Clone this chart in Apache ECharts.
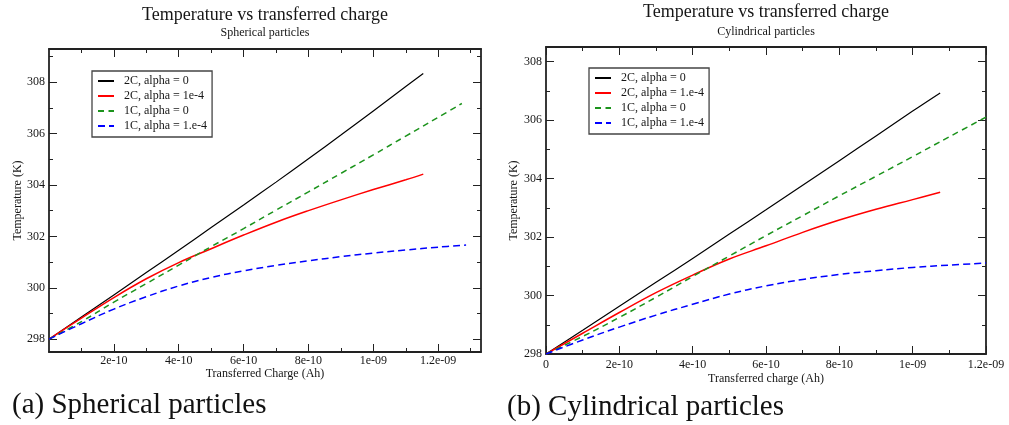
<!DOCTYPE html>
<html>
<head>
<meta charset="utf-8">
<title>Temperature vs transferred charge</title>
<script src="https://cdn.jsdelivr.net/npm/echarts@6/dist/echarts.min.js"></script>
<style>
  html, body { margin: 0; padding: 0; background: #fff; }
  #chart { width: 1009px; height: 425px; }
</style>
</head>
<body>
<div id="chart"></div>
<script>
// ---- Spherical particles (left panel) ----
// transferred charge (Ah) for the 2C runs
const sphCharge2C = [0, 1e-10, 2e-10, 3e-10, 4e-10, 5e-10, 6e-10, 7e-10, 8e-10, 9e-10, 1e-9, 1.1e-9, 1.154e-9];
const sphTemp2C_a0 = [298, 298.86, 299.72, 300.59, 301.46, 302.34, 303.22, 304.11, 305.02, 305.94, 306.88, 307.83, 308.34];
const sphTemp2C_a1 = [298, 298.82, 299.62, 300.35, 300.98, 301.52, 302.05, 302.55, 303.0, 303.42, 303.82, 304.2, 304.42];
// 1C runs
const sphCharge1C_a0 = [0, 1e-10, 2e-10, 3e-10, 4e-10, 5e-10, 6e-10, 7e-10, 8e-10, 9e-10, 1e-9, 1.1e-9, 1.2e-9, 1.273e-9];
const sphTemp1C_a0 = [298, 298.68, 299.44, 300.16, 300.88, 301.6, 302.3, 303.02, 303.73, 304.45, 305.17, 305.9, 306.63, 307.17];
const sphCharge1C_a1 = [0, 1e-10, 2e-10, 3e-10, 4e-10, 5e-10, 6e-10, 7e-10, 8e-10, 9e-10, 1e-9, 1.1e-9, 1.2e-9, 1.286e-9];
const sphTemp1C_a1 = [298, 298.6, 299.17, 299.65, 300.07, 300.4, 300.66, 300.87, 301.05, 301.21, 301.35, 301.47, 301.58, 301.66];

// ---- Cylindrical particles (right panel) ----
const cylCharge2C = [0, 1e-10, 2e-10, 3e-10, 4e-10, 5e-10, 6e-10, 7e-10, 8e-10, 9e-10, 1e-9, 1.075e-9];
const cylTemp2C_a0 = [298, 298.81, 299.63, 300.45, 301.27, 302.1, 302.93, 303.77, 304.61, 305.46, 306.31, 306.93];
const cylTemp2C_a1 = [298, 298.71, 299.42, 300.1, 300.7, 301.25, 301.7, 302.16, 302.58, 302.95, 303.28, 303.53];
const cylCharge1C = [0, 1e-10, 2e-10, 3e-10, 4e-10, 5e-10, 6e-10, 7e-10, 8e-10, 9e-10, 1e-9, 1.1e-9, 1.2e-9];
const cylTemp1C_a0 = [298, 298.6, 299.25, 299.94, 300.65, 301.35, 302.05, 302.73, 303.41, 304.08, 304.75, 305.43, 306.1];
const cylTemp1C_a1 = [298, 298.48, 298.92, 299.33, 299.7, 300.05, 300.33, 300.55, 300.72, 300.85, 300.96, 301.04, 301.11];

// ---- axis ticks and labels ----
const sphXLabels = [2e-10, 4e-10, 6e-10, 8e-10, 1e-9, 1.2e-9];
const sphXMinor = [1e-10, 3e-10, 5e-10, 7e-10, 9e-10, 1.1e-9, 1.3e-9];
const sphYLabels = [298, 300, 302, 304, 306, 308];
const sphYMinor = [299, 301, 303, 305, 307, 309];
const cylXLabels = [0, 2e-10, 4e-10, 6e-10, 8e-10, 1e-9, 1.2e-9];
const cylXMinor = [1e-10, 3e-10, 5e-10, 7e-10, 9e-10, 1.1e-9];
const cylYLabels = [298, 300, 302, 304, 306, 308];
const cylYMinor = [299, 301, 303, 305, 307];

const FONT = '"Liberation Serif", "Times New Roman", serif';
const INK = '#161616';

// 1.2e-9 -> "1.2e-09", 2e-10 -> "2e-10", 0 -> "0"
function expLabel(v) {
  if (v === 0) return '0';
  return v.toExponential().replace(/e([+-])(\d)$/, 'e$10$2');
}

function zip(xs, ys) { return xs.map((x, i) => [x, ys[i]]); }

// Four x axes and four y axes per panel: labelled major ticks, minor ticks,
// and the mirrored top/right frame with the same inward ticks.
function panelAxes(g, c) {
  const frame = { show: true, onZero: false, lineStyle: { color: '#222', width: 1.8 } };
  const hidden = { show: false, onZero: false };
  const tick = (vals, len) => ({ show: true, inside: true, length: len, customValues: vals,
    lineStyle: { color: '#222', width: 1 } });
  const base = { type: 'value', gridIndex: g, splitLine: { show: false }, silent: true };
  const xr = { min: c.xMin, max: c.xMax };
  const yr = { min: c.yMin, max: c.yMax };
  const lbl = { fontFamily: FONT, fontSize: 12, color: INK };
  const xAxes = [
    Object.assign({}, base, xr, {
      position: 'bottom', axisLine: frame, axisTick: tick(c.xLabels, 8),
      axisLabel: Object.assign({ show: true, customValues: c.xLabels, formatter: expLabel, margin: c.xLabelMargin }, lbl),
      name: c.xName, nameLocation: 'middle', nameGap: c.xNameGap, nameMoveOverlap: false,
      nameTextStyle: { fontFamily: FONT, fontSize: 12, color: INK }
    }),
    Object.assign({}, base, xr, { position: 'bottom', axisLine: hidden, axisTick: tick(c.xMinor, 4), axisLabel: { show: false } }),
    Object.assign({}, base, xr, { position: 'top', axisLine: frame, axisTick: tick(c.xLabels, 8), axisLabel: { show: false } }),
    Object.assign({}, base, xr, { position: 'top', axisLine: hidden, axisTick: tick(c.xMinor, 4), axisLabel: { show: false } })
  ];
  const yAxes = [
    Object.assign({}, base, yr, {
      position: 'left', axisLine: frame, axisTick: tick(c.yLabels, 8),
      axisLabel: Object.assign({ show: true, customValues: c.yLabels, margin: 4 }, lbl),
      name: 'Temperature (K)', nameLocation: 'middle', nameGap: c.yNameGap, nameRotate: 90, nameMoveOverlap: false,
      nameTextStyle: { fontFamily: FONT, fontSize: 12, color: INK }
    }),
    Object.assign({}, base, yr, { position: 'left', axisLine: hidden, axisTick: tick(c.yMinor, 4), axisLabel: { show: false } }),
    Object.assign({}, base, yr, { position: 'right', axisLine: frame, axisTick: tick(c.yLabels, 8), axisLabel: { show: false } }),
    Object.assign({}, base, yr, { position: 'right', axisLine: hidden, axisTick: tick(c.yMinor, 4), axisLabel: { show: false } })
  ];
  return { xAxes, yAxes };
}

const left = panelAxes(0, {
  xMin: 0, xMax: 1.332e-9, yMin: 297.5, yMax: 309.29,
  xLabels: sphXLabels, xMinor: sphXMinor, yLabels: sphYLabels, yMinor: sphYMinor,
  xName: 'Transferred Charge (Ah)', xLabelMargin: 3, xNameGap: 16, yNameGap: 25
});
const right = panelAxes(1, {
  xMin: 0, xMax: 1.2e-9, yMin: 298, yMax: 308.5,
  xLabels: cylXLabels, xMinor: cylXMinor, yLabels: cylYLabels, yMinor: cylYMinor,
  xName: 'Transferred charge (Ah)', xLabelMargin: 5, xNameGap: 19, yNameGap: 26
});

const STY = {
  c2a0: { color: '#000000', width: 1.2, type: 'solid' },
  c2a1: { color: '#ff0000', width: 1.5, type: 'solid' },
  c1a0: { color: '#1c931c', width: 1.5, type: [6, 4.5] },
  c1a1: { color: '#0000ff', width: 1.5, type: [7, 4] }
};

function line(name, xi, yi, data, s) {
  return {
    name, type: 'line', xAxisIndex: xi, yAxisIndex: yi, data,
    symbol: 'none', showSymbol: false, smooth: 0.4, animation: false, silent: true,
    lineStyle: { color: s.color, width: s.width, type: s.type },
    itemStyle: { color: s.color }
  };
}

// legend keys show only the line sample, no marker
const legendBase = {
  orient: 'vertical', padding: [4, 5, 5, 5], itemWidth: 16, itemHeight: 12, itemGap: 3,
  borderColor: '#444', borderWidth: 1.3, backgroundColor: '#fff', selectedMode: false,
  itemStyle: { opacity: 0 },
  textStyle: { fontFamily: FONT, fontSize: 12, color: INK, padding: [0, 0, 0, 5] }
};

const titleBase = {
  textAlign: 'center', padding: 0,
  textStyle: { fontFamily: FONT, fontSize: 18, fontWeight: 'normal', color: INK },
  subtextStyle: { fontFamily: FONT, fontSize: 12, color: INK }
};

const option = {
  backgroundColor: '#fff',
  animation: false,
  title: [
    Object.assign({}, titleBase, { text: 'Temperature vs transferred charge', subtext: 'Spherical particles', left: 265, top: 6, itemGap: 3 }),
    Object.assign({}, titleBase, { text: 'Temperature vs transferred charge', subtext: 'Cylindrical particles', left: 766, top: 3, itemGap: 5 })
  ],
  legend: [
    Object.assign({}, legendBase, { left: 92, top: 71,
      data: ['2C, alpha = 0', '2C, alpha = 1e-4', '1C, alpha = 0', '1C, alpha = 1.e-4'] }),
    Object.assign({}, legendBase, { left: 589, top: 68,
      data: ['2C, alpha = 0', '2C, alpha = 1.e-4', '1C, alpha = 0', '1C, alpha = 1.e-4'] })
  ],
  grid: [
    { left: 49, top: 49, width: 432, height: 303, containLabel: false, outerBoundsMode: 'none' },
    { left: 546, top: 47, width: 440, height: 307, containLabel: false, outerBoundsMode: 'none' }
  ],
  xAxis: left.xAxes.concat(right.xAxes),
  yAxis: left.yAxes.concat(right.yAxes),
  series: [
    line('2C, alpha = 0', 0, 0, zip(sphCharge2C, sphTemp2C_a0), STY.c2a0),
    line('2C, alpha = 1e-4', 0, 0, zip(sphCharge2C, sphTemp2C_a1), STY.c2a1),
    line('1C, alpha = 0', 0, 0, zip(sphCharge1C_a0, sphTemp1C_a0), STY.c1a0),
    line('1C, alpha = 1.e-4', 0, 0, zip(sphCharge1C_a1, sphTemp1C_a1), STY.c1a1),
    line('2C, alpha = 0', 4, 4, zip(cylCharge2C, cylTemp2C_a0), STY.c2a0),
    line('2C, alpha = 1.e-4', 4, 4, zip(cylCharge2C, cylTemp2C_a1), STY.c2a1),
    line('1C, alpha = 0', 4, 4, zip(cylCharge1C, cylTemp1C_a0), STY.c1a0),
    line('1C, alpha = 1.e-4', 4, 4, zip(cylCharge1C, cylTemp1C_a1), STY.c1a1)
  ],
  graphic: [
    { type: 'text', x: 12, y: 405, silent: true,
      style: { text: '(a) Spherical particles', fontFamily: FONT, fontSize: 29, fill: '#111', verticalAlign: 'middle' } },
    { type: 'text', x: 507, y: 407, silent: true,
      style: { text: '(b) Cylindrical particles', fontFamily: FONT, fontSize: 29, fill: '#111', verticalAlign: 'middle' } }
  ]
};

const chart = echarts.init(document.getElementById('chart'), null, { renderer: 'canvas' });
chart.setOption(option);
</script>
</body>
</html>
